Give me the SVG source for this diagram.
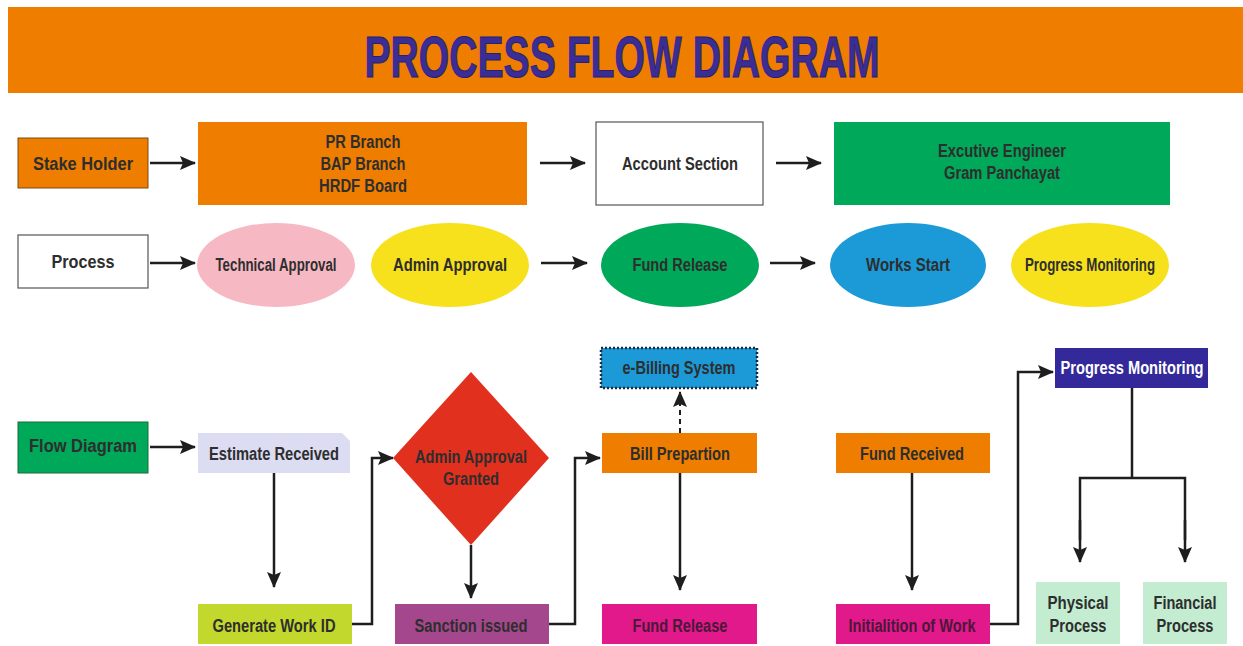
<svg xmlns="http://www.w3.org/2000/svg" width="1243" height="646" viewBox="0 0 1243 646">
<defs>
<style>
.t{font-family:"Liberation Sans",Arial,sans-serif;font-weight:bold;font-size:18px;fill:#2e2e2e;text-anchor:middle;dominant-baseline:central}
.ln{fill:none;stroke:#1e1e1e;stroke-width:2.5}
.dash{fill:none;stroke:#1e1e1e;stroke-width:2;stroke-dasharray:5 4}
</style>
<marker id="ah" viewBox="0 0 16 14" refX="15" refY="7" markerWidth="16" markerHeight="14" markerUnits="userSpaceOnUse" orient="auto">
<path d="M0,0 L16,7 L0,14 L3,7 Z" fill="#1e1e1e"/>
</marker>
</defs>
<rect width="1243" height="646" fill="#ffffff"/>
<g id="header">
<rect x="8" y="7" width="1235" height="86" fill="#ef7d00"/>
<text x="622" y="56" font-family="Liberation Sans,Arial,sans-serif" font-weight="bold" font-size="58" fill="#3b2d96" stroke="#2a1f70" stroke-width="1" text-anchor="middle" dominant-baseline="central" textLength="515" lengthAdjust="spacingAndGlyphs">PROCESS FLOW DIAGRAM</text>
</g>
<g id="connectors">
<line class="ln" x1="150" y1="163" x2="195" y2="163" marker-end="url(#ah)"/>
<line class="ln" x1="540" y1="163" x2="585" y2="163" marker-end="url(#ah)"/>
<line class="ln" x1="776" y1="163" x2="821" y2="163" marker-end="url(#ah)"/>
<line class="ln" x1="150" y1="263" x2="195" y2="263" marker-end="url(#ah)"/>
<line class="ln" x1="541" y1="263" x2="587" y2="263" marker-end="url(#ah)"/>
<line class="ln" x1="770" y1="263" x2="815" y2="263" marker-end="url(#ah)"/>
<line class="ln" x1="150" y1="447" x2="195" y2="447" marker-end="url(#ah)"/>
<line class="ln" x1="274" y1="473" x2="274" y2="587" marker-end="url(#ah)"/>
<polyline class="ln" points="352,624 372,624 372,458 393,458" marker-end="url(#ah)"/>
<line class="ln" x1="471" y1="545" x2="471" y2="598" marker-end="url(#ah)"/>
<polyline class="ln" points="549,624 575,624 575,458 600,458" marker-end="url(#ah)"/>
<line class="dash" x1="680" y1="433" x2="680" y2="392" marker-end="url(#ah)"/>
<line class="ln" x1="680" y1="473" x2="680" y2="590" marker-end="url(#ah)"/>
<line class="ln" x1="912" y1="473" x2="912" y2="590" marker-end="url(#ah)"/>
<polyline class="ln" points="990,624 1018,624 1018,372 1053,372" marker-end="url(#ah)"/>
<polyline class="ln" points="1132,388 1132,478"/>
<polyline class="ln" points="1080,540 1080,478 1185,478 1185,540" />
<line class="ln" x1="1080" y1="520" x2="1080" y2="562" marker-end="url(#ah)"/>
<line class="ln" x1="1185" y1="520" x2="1185" y2="562" marker-end="url(#ah)"/>
</g>
<g id="stake-holder">
<rect x="18" y="138" width="130" height="50" fill="#ef7d00" stroke="#7a4a10" stroke-width="1"/>
<text class="t" x="83" y="164" textLength="100" lengthAdjust="spacingAndGlyphs">Stake Holder</text>
</g>
<g id="branches">
<rect x="198" y="122" width="329" height="83" fill="#ef7d00"/>
<text class="t" x="363" y="142" textLength="75" lengthAdjust="spacingAndGlyphs">PR Branch</text>
<text class="t" x="363" y="164" textLength="85" lengthAdjust="spacingAndGlyphs">BAP Branch</text>
<text class="t" x="363" y="186" textLength="88" lengthAdjust="spacingAndGlyphs">HRDF Board</text>
</g>
<g id="account-section">
<rect x="596" y="122" width="167" height="83" fill="#ffffff" stroke="#555" stroke-width="1.2"/>
<text class="t" x="680" y="164" textLength="116" lengthAdjust="spacingAndGlyphs">Account Section</text>
</g>
<g id="executive-engineer">
<rect x="834" y="122" width="336" height="83" fill="#00a859"/>
<text class="t" x="1002" y="151" textLength="128" lengthAdjust="spacingAndGlyphs">Excutive Engineer</text>
<text class="t" x="1002" y="173" textLength="116" lengthAdjust="spacingAndGlyphs">Gram Panchayat</text>
</g>
<g id="process">
<rect x="18" y="235" width="130" height="53" fill="#ffffff" stroke="#555" stroke-width="1.2"/>
<text class="t" x="83" y="262" textLength="63" lengthAdjust="spacingAndGlyphs">Process</text>
</g>
<g id="technical-approval">
<ellipse cx="276" cy="265" rx="79" ry="42" fill="#f6b8c2"/>
<text class="t" x="276" y="265" textLength="121" lengthAdjust="spacingAndGlyphs">Technical Approval</text>
</g>
<g id="admin-approval">
<ellipse cx="450" cy="265" rx="79" ry="42" fill="#f6e11c"/>
<text class="t" x="450" y="265" textLength="114" lengthAdjust="spacingAndGlyphs">Admin Approval</text>
</g>
<g id="fund-release-ellipse">
<ellipse cx="680" cy="265" rx="79" ry="42" fill="#00a859"/>
<text class="t" x="680" y="265" textLength="95" lengthAdjust="spacingAndGlyphs">Fund Release</text>
</g>
<g id="works-start">
<ellipse cx="908" cy="265" rx="78" ry="42" fill="#1b9ad7"/>
<text class="t" x="908" y="265" textLength="84" lengthAdjust="spacingAndGlyphs">Works Start</text>
</g>
<g id="progress-monitoring-ellipse">
<ellipse cx="1090" cy="265" rx="79" ry="42" fill="#f6e11c"/>
<text class="t" x="1090" y="265" textLength="130" lengthAdjust="spacingAndGlyphs">Progress Monitoring</text>
</g>
<g id="flow-diagram">
<rect x="18" y="422" width="130" height="51" fill="#00a859" stroke="#1c6a3c" stroke-width="1"/>
<text class="t" x="83" y="446" textLength="108" lengthAdjust="spacingAndGlyphs">Flow Diagram</text>
</g>
<g id="estimate-received">
<polygon points="198,433 342,433 350,441 350,473 198,473" fill="#dcdcf3"/>
<text class="t" x="274" y="454" textLength="130" lengthAdjust="spacingAndGlyphs">Estimate Received</text>
</g>
<g id="generate-work-id">
<rect x="198" y="604" width="154" height="40" fill="#c3d82c"/>
<text class="t" x="274" y="626" textLength="123" lengthAdjust="spacingAndGlyphs">Generate Work ID</text>
</g>
<g id="admin-approval-granted">
<polygon points="471,372 549,458 471,545 393,458" fill="#e2301e"/>
<text class="t" x="471" y="457" textLength="112" lengthAdjust="spacingAndGlyphs">Admin Approval</text>
<text class="t" x="471" y="479" textLength="56" lengthAdjust="spacingAndGlyphs">Granted</text>
</g>
<g id="sanction-issued">
<rect x="395" y="604" width="154" height="40" fill="#a5478d"/>
<text class="t" x="471" y="626" textLength="113" lengthAdjust="spacingAndGlyphs">Sanction issued</text>
</g>
<g id="e-billing">
<rect x="601" y="348" width="156" height="40" fill="#1b9ad7" stroke="#1a2a40" stroke-width="2.5" stroke-dasharray="2 2"/>
<text class="t" x="679" y="368" textLength="113" lengthAdjust="spacingAndGlyphs">e-Billing System</text>
</g>
<g id="bill-preparation">
<rect x="602" y="433" width="155" height="40" fill="#ef7d00"/>
<text class="t" x="680" y="454" textLength="100" lengthAdjust="spacingAndGlyphs">Bill Prepartion</text>
</g>
<g id="fund-release-box">
<rect x="602" y="604" width="155" height="40" fill="#e2198b"/>
<text class="t" x="680" y="626" style="fill:#4a1838" textLength="95" lengthAdjust="spacingAndGlyphs">Fund Release</text>
</g>
<g id="fund-received">
<rect x="836" y="433" width="154" height="40" fill="#ef7d00"/>
<text class="t" x="912" y="454" textLength="104" lengthAdjust="spacingAndGlyphs">Fund Received</text>
</g>
<g id="initialition-of-work">
<rect x="836" y="604" width="154" height="40" fill="#e2198b"/>
<text class="t" x="912" y="626" style="fill:#4a1838" textLength="127" lengthAdjust="spacingAndGlyphs">Initialition of Work</text>
</g>
<g id="progress-monitoring-box">
<rect x="1055" y="348" width="153" height="40" fill="#33299a"/>
<text class="t" x="1132" y="368" style="fill:#ffffff" textLength="143" lengthAdjust="spacingAndGlyphs">Progress Monitoring</text>
</g>
<g id="physical-process">
<rect x="1036" y="582" width="84" height="62" fill="#c3ecd1"/>
<text class="t" x="1078" y="603" textLength="61" lengthAdjust="spacingAndGlyphs">Physical</text>
<text class="t" x="1078" y="626" textLength="57" lengthAdjust="spacingAndGlyphs">Process</text>
</g>
<g id="financial-process">
<rect x="1143" y="582" width="84" height="62" fill="#c3ecd1"/>
<text class="t" x="1185" y="603" textLength="63" lengthAdjust="spacingAndGlyphs">Financial</text>
<text class="t" x="1185" y="626" textLength="57" lengthAdjust="spacingAndGlyphs">Process</text>
</g>
</svg>
